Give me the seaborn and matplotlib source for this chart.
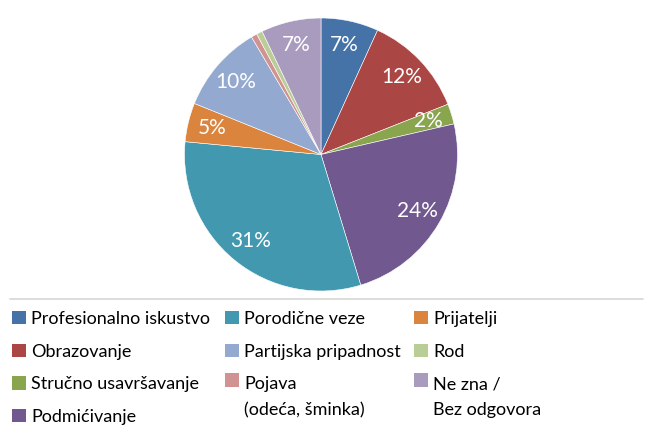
import matplotlib
matplotlib.use("Agg")
import matplotlib.pyplot as plt
import seaborn as sns
from matplotlib.patches import Patch
from matplotlib.lines import Line2D
from matplotlib.legend_handler import HandlerPatch

# -----------------------------
# Data
# -----------------------------
categories = [
    "Profesionalno iskustvo",
    "Obrazovanje",
    "Stručno usavršavanje",
    "Podmićivanje",
    "Porodične veze",
    "Prijatelji",
    "Partijska pripadnost",
    "Pojava\n(odeća, šminka)",
    "Rod",
    "Ne zna /\nBez odgovora",
]
shares = [6.8, 12.2, 2.4, 23.9, 31.2, 4.6, 10.4, 0.7, 0.7, 7.1]
colors = ["#4572A7", "#AA4643", "#89A54E", "#71588F", "#4198AF",
          "#DB843D", "#93A9CF", "#D19392", "#B9CD96", "#A99BBD"]

# legend columns (indices into categories)
legend_cols = [[0, 1, 2, 3], [4, 6, 7], [5, 8, 9]]

# -----------------------------
# Style
# -----------------------------
sns.set_theme(style="white")
plt.rcParams["font.family"] = ["Lato", "DejaVu Sans"]
palette = sns.color_palette(colors)

W, H = 651, 442
fig = plt.figure(figsize=(W / 100, H / 100), dpi=100)

# pie centred at (321, 154.5) px, radius 136.5 px
r = 136.5
ax = fig.add_axes([(321 - r) / W, (H - 154.5 - r) / H, 2 * r / W, 2 * r / H])


def pct_label(p):
    return f"{p:.0f}%" if p >= 1.5 else ""


wedges, texts, autotexts = ax.pie(
    shares,
    colors=palette,
    startangle=90,
    counterclock=False,
    autopct=pct_label,
    pctdistance=0.82,
    wedgeprops=dict(edgecolor="white", linewidth=0.4),
    textprops=dict(color="white", fontsize=15),
)
ax.set_xlim(-1, 1)
ax.set_ylim(-1, 1)
ax.set_axis_off()

# -----------------------------
# Separator line above legend
# -----------------------------
fig.add_artist(Line2D([10 / W, 643 / W], [1 - 299 / H] * 2,
                      color="#d9d9d9", lw=1.3))


# -----------------------------
# Legend: three columns
# -----------------------------
class RaisedPatch(HandlerPatch):
    """Patch handle lifted to sit next to the first line of a 2-line label."""

    def __init__(self, lift, **kw):
        super().__init__(**kw)
        self.lift = lift

    def create_artists(self, legend, orig_handle, xdescent, ydescent,
                       width, height, fontsize, trans):
        return super().create_artists(legend, orig_handle, xdescent,
                                      ydescent - self.lift, width, height,
                                      fontsize, trans)


fs = 13
line_sp = 1.75
col_x = [12, 225, 414]
for x, idx in zip(col_x, legend_cols):
    handles = [Patch(facecolor=palette[i], edgecolor="none") for i in idx]
    labels = [categories[i] for i in idx]
    hmap = {}
    for h, lab in zip(handles, labels):
        if "\n" in lab:
            hmap[h] = RaisedPatch(lift=0.5 * fs * line_sp * 1.1)
    leg = fig.legend(
        handles, labels,
        loc="upper left",
        bbox_to_anchor=(x / W, 1 - 311 / H),
        frameon=False,
        fontsize=fs,
        handlelength=0.75,
        handleheight=0.75,
        handletextpad=0.3,
        labelspacing=0.92,
        borderpad=0,
        borderaxespad=0,
        handler_map=hmap,
    )
    for t in leg.get_texts():
        t.set_linespacing(line_sp)
        t.set_color("black")

fig.savefig("out.png", dpi=100)
